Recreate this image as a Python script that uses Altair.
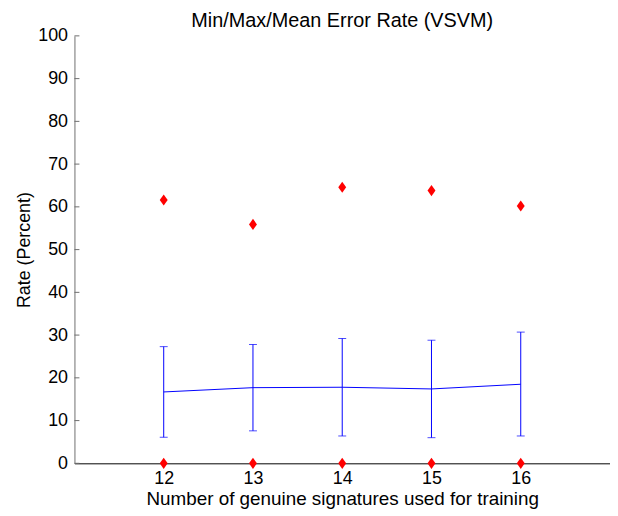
import altair as alt
import pandas as pd

# Data
n_train = [12, 13, 14, 15, 16]
mean_rate = [16.7, 17.7, 17.8, 17.4, 18.5]
upper_rate = [27.3, 27.8, 29.2, 28.8, 30.7]
lower_rate = [6.1, 7.6, 6.4, 6.0, 6.4]
max_rate = [61.6, 55.9, 64.6, 63.8, 60.2]
min_rate = [0, 0, 0, 0, 0]
y_ticks = list(range(0, 101, 10))

df = pd.DataFrame({
    "n": n_train, "mean": mean_rate, "up": upper_rate, "lo": lower_rate,
    "max": max_rate, "min": min_rate,
})
tick_df = pd.DataFrame({"t": y_ticks})

FONT = "Liberation Sans"
FS = 18
xscale = alt.Scale(domain=[11, 17], nice=False, zero=False)
yscale = alt.Scale(domain=[0, 100], nice=False)

x_axis = alt.Axis(values=n_train, format="d",
                  title="Number of genuine signatures used for training",
                  grid=False, tickSize=0, labelPadding=6, titlePadding=3,
                  domainColor="#000000", labelFontSize=FS, titleFontSize=FS + 1,
                  labelColor="#000", titleColor="#000", titleFontWeight="normal",
                  labelFont=FONT, titleFont=FONT)
y_axis = alt.Axis(values=y_ticks, title="Rate (Percent)", grid=False, tickSize=0,
                  labelPadding=7, titlePadding=4, domainColor="#6e6e6e",
                  labelFontSize=FS, titleFontSize=FS, labelColor="#000",
                  titleColor="#000", titleFontWeight="normal",
                  labelFont=FONT, titleFont=FONT)

base = alt.Chart(df)

ticks = alt.Chart(tick_df).mark_rule(color="#6e6e6e", strokeWidth=1).encode(
    y=alt.Y("t:Q", scale=yscale, axis=y_axis),
    x=alt.value(0), x2=alt.value(5),
)

err = base.mark_rule(color="#0000ff", strokeWidth=1).encode(
    x=alt.X("n:Q", scale=xscale, axis=x_axis),
    y=alt.Y("lo:Q", scale=yscale), y2="up:Q",
)
cap_up = base.mark_tick(color="#0000ff", orient="horizontal", size=8, thickness=1).encode(
    x=alt.X("n:Q", scale=xscale), y=alt.Y("up:Q", scale=yscale))
cap_lo = base.mark_tick(color="#0000ff", orient="horizontal", size=8, thickness=1).encode(
    x=alt.X("n:Q", scale=xscale), y=alt.Y("lo:Q", scale=yscale))
line = base.mark_line(color="#0000ff", strokeWidth=1).encode(
    x=alt.X("n:Q", scale=xscale), y=alt.Y("mean:Q", scale=yscale))

diamond = "M0,-1.4L1,0L0,1.4L-1,0Z"
pmax = base.mark_point(shape=diamond, filled=True, color="#ff0000", size=64, opacity=1).encode(
    x=alt.X("n:Q", scale=xscale), y=alt.Y("max:Q", scale=yscale))
pmin = base.mark_point(shape=diamond, filled=True, color="#ff0000", size=64, opacity=1).encode(
    x=alt.X("n:Q", scale=xscale), y=alt.Y("min:Q", scale=yscale))

chart = alt.layer(ticks, err, cap_up, cap_lo, line, pmax, pmin).properties(
    width=540, height=431,
    autosize=alt.AutoSizeParams(type="none"),
    padding={"left": 67, "top": 26, "right": 0, "bottom": 50},
    title=alt.TitleParams("Min/Max/Mean Error Rate (VSVM)", fontSize=20,
                          fontWeight="normal", font=FONT, color="#000",
                          anchor="middle", offset=-4),
).configure(background="#ffffff").configure_view(stroke=None)

chart.save("out.html", embed_options={"renderer": "svg", "actions": False})
